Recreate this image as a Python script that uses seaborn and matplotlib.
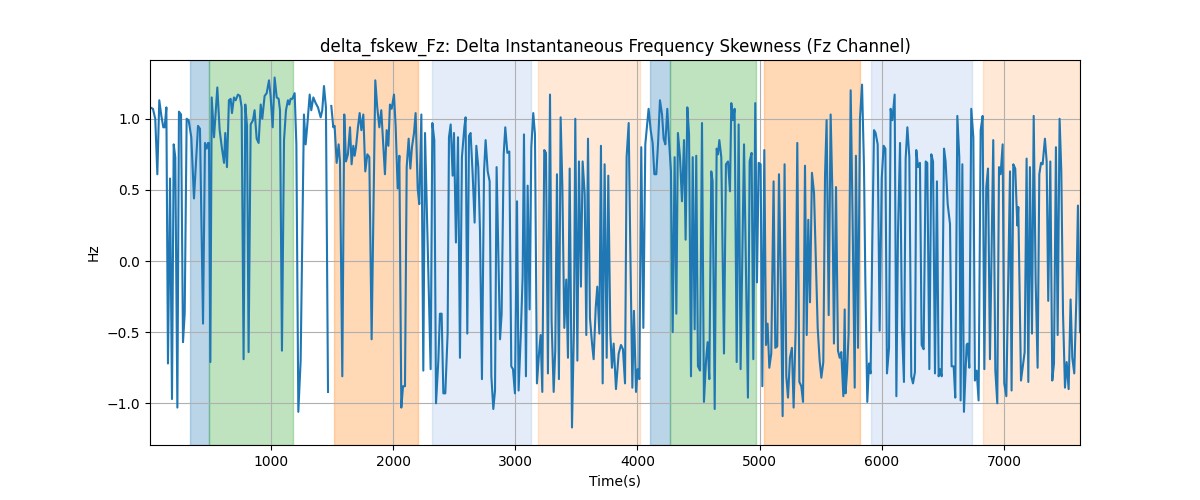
import numpy as np
import pandas as pd
import matplotlib
matplotlib.use("Agg")
import matplotlib.pyplot as plt
import seaborn as sns

OUTPUT_PNG = "out.png"
TITLE = "delta_fskew_Fz: Delta Instantaneous Frequency Skewness (Fz Channel)"

# time (s) and value (Hz); NaN marks the break in the recording
TIME = [
    10, 34, 53, 70, 86, 103, 119, 130, 144, 157, 174, 190, 204, 217, 234, 247, 264, 280, 294, 310,
    326, 348, 370, 403, 419, 444, 460, 474, 485, 493, 504, 515, 534, 561, 580, 599, 616, 626, 640, 656,
    670, 681, 697, 711, 730, 746, 760, 776, 790, 804, 817, 834, 853, 866, 883, 899, 916, 929, 948,
    965, 984, 997, 1014, 1030, 1047, 1063, 1074, 1090, 1107, 1123, 1139, 1150, 1161, 1175, 1194, 1208,
    1224, 1243, 1270, 1284, 1298, 1317, 1330, 1347, 1366, 1385, 1407, 1420, 1434, 1450, 1467, 1480,
    1494, 1510, 1521, 1538, 1554, 1565, 1584, 1600, 1614, 1630, 1647, 1660, 1674, 1685, 1696, 1712,
    1726, 1740, 1756, 1772, 1789, 1805, 1824, 1854, 1870, 1887, 1903,
    1920, 1933, 1947, 1961, 1974, 1988, 2007, 2021, 2037, 2051, 2067, 2081, 2097, 2111, 2127, 2141,
    2154, 2171, 2184, 2201, 2214, 2231, 2247, 2261, 2307, 2321, 2337, 2351, 2370, 2383, 2397, 2411,
    2427, 2446, 2457, 2471, 2487, 2498, 2514, 2531, 2547, 2563, 2583, 2593, 2607, 2621, 2634, 2651,
    2667, 2681, 2697, 2711, 2727, 2744, 2757, 2774, 2790, 2804, 2820, 2834, 2847,
    2875, 2888, 2905, 2918, 2935, 2951, 2967, 2981, 2997, 3014, 3027, 3044, 3060, 3071, 3087, 3101,
    3117, 3131, 3147, 3161, 3177, 3194, 3207, 3221, 3237, 3251, 3267, 3284, 3297, 3314, 3327, 3341,
    3357, 3371, 3385, 3401, 3417, 3431, 3445, 3464, 3480, 3491, 3508, 3521, 3537, 3551, 3568, 3581,
    3595, 3611, 3628, 3641, 3658, 3671, 3688, 3701, 3715, 3731, 3748, 3761, 3778, 3791, 3805,
    3824, 3846, 3865, 3881, 3898, 3911, 3928, 3941, 3958, 3971, 3988, 4001, 4015, 4031, 4048, 4064,
    4091, 4108, 4124, 4138, 4154, 4168, 4184, 4201, 4214, 4228, 4244, 4258, 4274, 4288, 4304, 4318,
    4331, 4348, 4364, 4381, 4394, 4408, 4422, 4438, 4452, 4468, 4481, 4495, 4512, 4528, 4544, 4561,
    4574, 4588, 4604, 4615, 4632, 4648, 4659, 4670, 4686, 4708, 4724, 4741, 4757,
    4768, 4782, 4795, 4812, 4828, 4844, 4872, 4904, 4918, 4934, 4948, 4964, 4978, 4992, 5008, 5022,
    5038, 5052, 5065, 5079, 5095, 5114, 5128, 5144, 5158, 5174, 5188, 5204, 5218, 5232, 5248, 5264,
    5278, 5295, 5308, 5325, 5341, 5355, 5371, 5385, 5398, 5412, 5428, 5445, 5461, 5475, 5491, 5505,
    5521, 5535, 5548, 5565, 5581, 5595, 5608, 5625, 5641, 5655, 5668, 5685, 5696,
    5703, 5715, 5728, 5745, 5761, 5778, 5788, 5805, 5821, 5838, 5854, 5865, 5881, 5895, 5908, 5922,
    5936, 5949, 5966, 5982, 5999, 6015, 6029, 6042, 6059, 6072, 6086, 6105, 6119, 6132, 6149, 6165,
    6181, 6195, 6209, 6225, 6241, 6255, 6271, 6282, 6296, 6312, 6326, 6342, 6359, 6372, 6389, 6405,
    6419, 6435, 6451, 6465, 6476, 6490, 6509, 6522, 6539, 6558, 6571, 6588, 6601, 6618, 6634, 6645,
    6659, 6672, 6694, 6702, 6716, 6732, 6749, 6762, 6776, 6792, 6809, 6825, 6839, 6855, 6869, 6885,
    6912, 6929, 6945, 6959, 6972, 6989, 7002, 7019, 7049, 7062, 7076, 7092, 7109, 7117, 7139, 7169,
    7185, 7199, 7212, 7229, 7243, 7259, 7275, 7289, 7303, 7316, 7335, 7349, 7362, 7379, 7395, 7409,
    7425, 7439, 7455, 7469, 7483, 7499, 7513, 7529, 7545, 7559, 7575, 7592, 7605, 7622,
]
VALUE = [
    1.08, 1.07, 1.00, 0.61, 1.13, 1.02, 0.94, 0.94, 1.08, -0.72, 0.58, -0.97, 0.82, 0.73, -1.03, 1.05, 1.03, -0.57, -0.37, 1.00,
    0.99, 0.87, 0.44, 0.95, 0.93, -0.44, 0.83, 0.79, 0.83, 0.83, -0.71, 1.15, 0.87, 1.22, 0.92, 0.79, 0.69, 0.90, 0.66, 1.13,
    1.14, 1.04, 1.15, 1.13, 1.17, 1.16, 1.08, -0.69, 1.10, 0.95, -0.64, 0.96, 0.99, 1.06, 0.86, 0.83, 1.10, 1.00, 1.16,
    1.18, 1.27, 1.16, 0.94, 1.29, 1.15, 1.14, 1.06, -0.63, 0.85, 1.06, 1.13, 1.10, 1.14, 1.14, 1.18, 0.82,
    -1.06, -0.70, 1.03, 0.82, 0.96, 1.17, 1.06, 1.15, 1.11, 1.08, 1.01, 1.06, 1.23, 1.08, -0.92, np.nan,
    1.09, 0.94, 0.95, 0.69, 0.82, 0.70, -0.81, 1.03, 0.70, 0.75, 0.94, 0.68, 0.81, 0.74, 0.80, 0.94,
    1.04, 0.92, 1.03, 0.63, 0.75, 0.73, -0.55, 1.27, 1.08, 0.94, 1.06,
    0.80, 0.61, 0.92, 0.81, 1.10, 1.07, 1.17, 0.94, 0.51, 0.74, -1.03, -0.88, -0.88, 0.66, 0.86, 0.65,
    0.80, 0.90, 1.04, 0.51, 0.40, 1.03, -0.77, 0.90, -0.76, 0.97, 0.85, -1.00, -0.70, -0.37, -0.37, -0.93,
    -0.93, -0.51, 0.87, 0.96, 0.60, 0.90, 0.13, 0.87, -0.68, 0.73, 0.94, 1.01, -0.51, 0.88, 0.90, 0.61,
    0.27, 0.81, 0.66, 0.21, -0.83, 0.63, 0.85, 0.63, 0.56, -0.81, -1.04, -0.91, 0.66,
    -0.55, -0.37, 0.75, 0.94, 0.76, 0.77, -0.74, -0.76, -0.93, 0.42, -0.91, -0.54, -0.11, 0.89, -0.81, 0.53,
    -0.34, 0.80, 1.04, 0.89, -0.86, -0.65, -0.52, -0.92, 0.78, 0.76, -0.79, 1.17, -0.42, -0.92, -0.63, 0.61,
    -0.83, 1.01, 0.53, -0.47, -0.13, -0.68, 0.65, -1.17, -0.47, 1.00, -0.70, 0.70, -0.18, 0.70, 0.47, -0.52,
    0.86, -0.40, -0.58, -0.69, -0.33, -0.18, -0.51, 0.81, -0.86, 0.68, -0.68, 0.60, -0.51, -0.75, -0.58,
    -0.90, -0.65, -0.59, -0.62, -0.86, 0.73, 0.97, 0.10, -0.89, -0.35, -0.92, -0.76, -0.83, 0.80, -0.47, 0.82,
    1.07, 0.92, 0.83, 0.61, 0.61, 0.82, 1.13, 1.03, 0.86, 0.82, 1.07, 0.85, 0.63, -0.50, 0.73, -0.37,
    0.90, 0.73, 0.42, 0.85, 0.15, 1.08, 0.89, -0.81, 0.73, -0.48, 0.74, -0.74, -0.77, 0.97, -0.99, -0.70,
    -0.57, -0.83, 0.63, 0.56, -1.04, 0.79, 0.75, 0.85, 0.73, -0.65, 0.68, 0.70, 0.49,
    1.11, 0.99, 1.07, -0.71, 0.96, -0.76, 0.82, -0.96, 0.70, 0.76, -0.69, 1.11, -0.15, 0.69, 0.68, -0.88,
    0.78, -0.59, -0.44, -0.75, -0.65, 0.56, -0.61, -0.60, 0.61, -0.21, -1.09, 0.68, -0.81, -0.96, -0.68, -0.61,
    -1.03, -0.47, 0.83, -0.85, -0.88, -0.99, 0.67, -0.52, 0.29, -0.29, 0.62, 0.48, -0.04, -0.47, -0.70, -0.82,
    -0.71, 0.60, 0.99, -0.38, 1.03, 0.49, -0.58, 0.52, -0.63, -0.68, -0.64, -0.95, -0.34,
    -0.93, -0.78, -0.51, 1.20, 0.28, -0.89, 0.74, -0.61, 1.00, 1.24, 0.66, -0.14, -0.99, -0.72, -0.79, 0.14,
    0.92, 0.90, 0.82, -0.49, 0.58, 0.81, 0.79, -0.79, -0.61, 1.07, 0.99, 1.17, -0.95, 0.19, 0.83, -0.47,
    -0.85, 0.72, 0.94, 0.73, -0.81, -0.86, -0.78, 0.78, 0.66, 0.69, -0.59, -0.62, 0.70, 0.69, -0.76, 0.75,
    0.70, -0.79, 0.56, -0.81, -0.76, -0.81, 0.79, 0.70, 0.40, 0.26, -0.74, -0.74, -0.96, 1.02, 0.73, -0.98,
    0.68, -1.06, -0.59, -0.58, -0.75, 1.07, 0.87, -0.84, -0.77, -0.98, 0.92, 1.02, -0.76, 0.52, 0.65, -0.69,
    0.85, -0.77, -1.00, 0.66, 0.61, 0.82, -0.86, -0.95, 0.63, -0.91, 0.68, 0.65, 0.25, 0.38, -0.84, -0.64,
    0.72, -0.85, 0.66, -0.51, 1.02, -0.14, -0.75, 0.61, 0.69, 0.68, 0.86, 0.70, -0.28, 0.70, -0.84, -0.72,
    0.80, -0.52, 1.00, 0.63, -0.37, -0.89, -0.71, -0.90, -0.27, -0.68, -0.79, -0.27, 0.39, -0.50,
]

# shaded segments
SPAN_START = [337, 493, 1517, 2318, 3186, 4103, 4266, 5035, 5911, 6827]
SPAN_END = [493, 1181, 2204, 3128, 4021, 4266, 4970, 5821, 6738, 7622]
SPAN_COLOR = ["tab:blue", "tab:green", "tab:orange", "#3f7fd0", "tab:orange",
              "tab:blue", "tab:green", "tab:orange", "#3f7fd0", "tab:orange"]
SPAN_ALPHA = [0.3, 0.3, 0.3, 0.14, 0.17, 0.3, 0.3, 0.3, 0.14, 0.17]


def build_frame():
    df = pd.DataFrame({"Time": TIME, "Value": VALUE})
    # split at NaN so the gap stays visible
    df["Segment"] = df["Value"].isna().cumsum()
    return df.dropna()


def main():
    df = build_frame()

    fig, ax = plt.subplots(figsize=(12, 5), dpi=100)

    for s, e, c, a in zip(SPAN_START, SPAN_END, SPAN_COLOR, SPAN_ALPHA):
        ax.axvspan(s, e, color=c, alpha=a)

    for _, seg in df.groupby("Segment"):
        sns.lineplot(data=seg, x="Time", y="Value", color="tab:blue", linewidth=1.5,
                     ax=ax, estimator=None, sort=False)

    ax.set_xlim(TIME[0], TIME[-1])
    ax.grid(True)
    ax.set_title(TITLE)
    ax.set_xlabel("Time(s)")
    ax.set_ylabel("Hz")

    fig.savefig(OUTPUT_PNG)
    plt.close(fig)


if __name__ == "__main__":
    main()
